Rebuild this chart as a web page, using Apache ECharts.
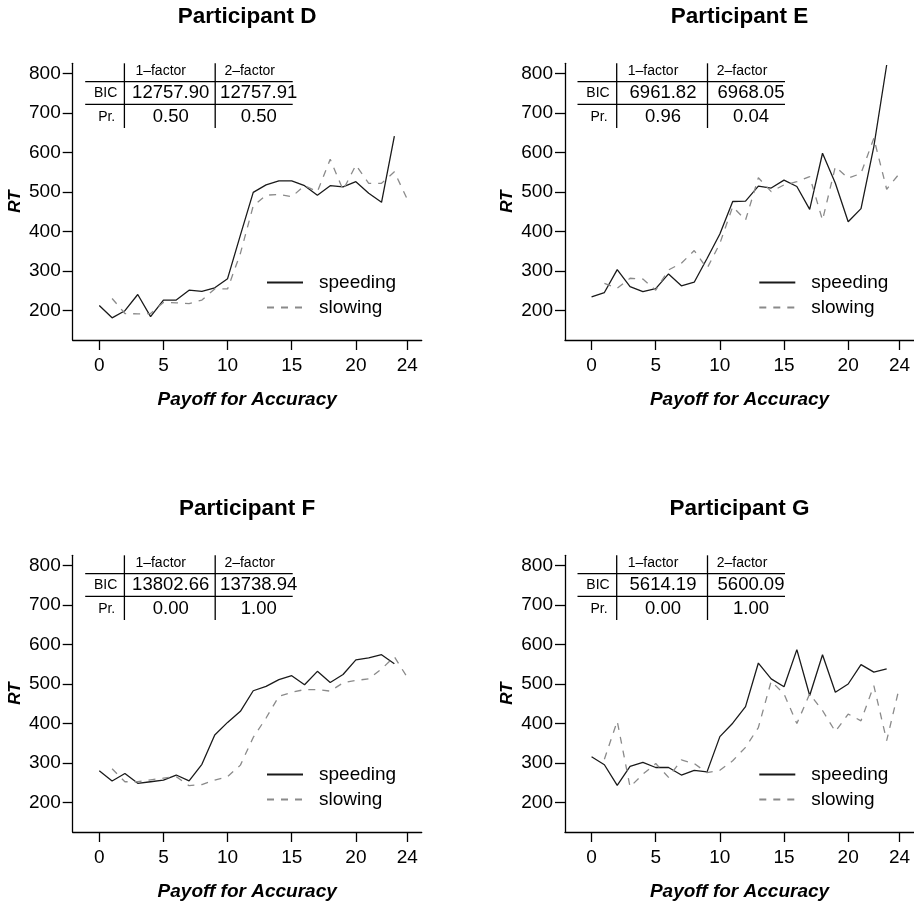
<!DOCTYPE html>
<html><head><meta charset="utf-8">
<script src="https://cdn.jsdelivr.net/npm/echarts@6/dist/echarts.min.js"></script>
<style>html,body{margin:0;padding:0;background:#fff}#c{width:914px;height:905px}</style>
</head><body><div id="c"></div>
<script>
// ---------------- DATA ----------------
const participants = ['Participant D', 'Participant E', 'Participant F', 'Participant G'];
const speedingTrials = [0,1,2,3,4,5,6,7,8,9,10,11,12,13,14,15,16,17,18,19,20,21,22,23];
const slowingTrials  = [1,2,3,4,5,6,7,8,9,10,11,12,13,14,15,16,17,18,19,20,21,22,23,24];
const xTickValues = [0, 5, 10, 15, 20, 24];
const yTickValues = [200, 300, 400, 500, 600, 700, 800];

const speedingD = [213,182,200,241,185,227,227,252,249,258,281,391,499,518,528,528,516,492,516,513,526,497,474,641];
const slowingD  = [231,193,192,193,221,220,218,227,255,255,345,465,492,494,488,516,501,583,505,568,522,522,551,482];
const speedingE = [235,246,304,261,248,256,293,263,272,332,394,476,477,515,510,530,514,456,598,522,425,458,615,821];
const slowingE  = [269,257,282,280,252,303,320,352,307,370,463,429,536,501,518,526,539,429,564,535,547,636,507,547];
const speedingF = [281,255,274,249,253,257,270,255,297,371,403,431,483,494,511,521,498,532,504,524,561,566,574,551];
const slowingF  = [286,253,253,258,262,266,243,246,257,266,295,365,414,469,479,486,486,482,503,509,513,538,569,517];
const speedingG = [316,296,244,292,302,289,289,270,282,278,367,401,443,553,513,493,587,471,574,479,500,549,530,538];
const slowingG  = [310,406,240,272,299,264,308,299,276,282,306,340,390,507,475,400,475,433,380,424,407,496,357,493];

const tableHeader = ['1\u2013factor', '2\u2013factor'];
const rowLabels = ['BIC', 'Pr.'];
const bicOneFactor = ['12757.90', '6961.82', '13802.66', '5614.19'];
const bicTwoFactor = ['12757.91', '6968.05', '13738.94', '5600.09'];
const prOneFactor  = ['0.50', '0.96', '0.00', '0.00'];
const prTwoFactor  = ['0.50', '0.04', '1.00', '1.00'];

const legendNames = ['speeding', 'slowing'];
const xAxisTitle = 'Payoff for Accuracy';
const yAxisTitle = 'RT';

// ---------------- LAYOUT ----------------
const speedingSets = [speedingD, speedingE, speedingF, speedingG];
const slowingSets = [slowingD, slowingE, slowingF, slowingG];
const FONT = "'Liberation Sans', Arial, Helvetica, sans-serif";
const PW = 349, PH = 276.7;
const lefts = [72.7, 565, 72.7, 565];
const tops = [63.3, 63.3, 555.3, 555.3];
const X_MIN = -2.07, X_MAX = 25.13, Y_MIN = 126, Y_MAX = 825.3;
const SOLID = '#1a1a1a', DASH = '#8a8a8a';

const grids = [], xAxes = [], yAxes = [], series = [], legends = [], graphics = [];

function zip(xs, ys) { return xs.map((x, i) => [x, ys[i]]); }

for (let i = 0; i < 4; i++) {
  const L = lefts[i], Tp = tops[i];
  grids.push({ left: L, top: Tp, width: PW, height: PH, containLabel: false });
  xAxes.push({
    type: 'value', gridIndex: i, min: X_MIN, max: X_MAX,
    axisLine: { show: true, onZero: false, lineStyle: { color: '#000', width: 1.3 } },
    axisTick: { show: true, length: 10, customValues: xTickValues, lineStyle: { color: '#000', width: 1.3 } },
    axisLabel: { customValues: xTickValues, color: '#000', fontSize: 19, fontFamily: FONT, margin: 16 },
    splitLine: { show: false }
  });
  yAxes.push({
    type: 'value', gridIndex: i, min: Y_MIN, max: Y_MAX,
    axisLine: { show: true, onZero: false, lineStyle: { color: '#000', width: 1.3 } },
    axisTick: { show: true, length: 10, customValues: yTickValues, lineStyle: { color: '#000', width: 1.3 } },
    axisLabel: { customValues: yTickValues, color: '#000', fontSize: 19, fontFamily: FONT, margin: 12 },
    splitLine: { show: false }
  });
  series.push({
    type: 'line', name: legendNames[0], xAxisIndex: i, yAxisIndex: i,
    data: zip(speedingTrials, speedingSets[i]), symbol: 'none', silent: true,
    itemStyle: { color: SOLID },
    lineStyle: { color: SOLID, width: 1.3, type: 'solid' }
  });
  series.push({
    type: 'line', name: legendNames[1], xAxisIndex: i, yAxisIndex: i,
    data: zip(slowingTrials, slowingSets[i]), symbol: 'none', silent: true,
    itemStyle: { color: DASH },
    lineStyle: { color: DASH, width: 1.3, type: [7, 7] }
  });
  legends.push({
    data: legendNames, orient: 'vertical', left: L + 193.3, top: Tp + 209.8,
    padding: 0, itemWidth: 36, itemHeight: 14, itemGap: 6, selectedMode: false,
    itemStyle: { opacity: 0 },
    textStyle: { fontSize: 19, fontFamily: FONT, color: '#000', lineHeight: 19, padding: [0, 0, 0, 11] }
  });

  const cx = L + PW / 2;
  // title
  graphics.push({ type: 'text', x: cx, y: Tp - 47, silent: true,
    style: { text: participants[i], fill: '#000', fontSize: 22.5, fontWeight: 'bold', fontFamily: FONT, align: 'center', verticalAlign: 'middle' } });
  // x axis title
  graphics.push({ type: 'text', x: cx, y: Tp + PH + 60, silent: true,
    style: { text: xAxisTitle, fill: '#000', fontSize: 19, fontWeight: 'bold', fontStyle: 'italic', fontFamily: FONT, align: 'center', verticalAlign: 'middle' } });
  // y axis title
  graphics.push({ type: 'text', x: L - 57.7, y: Tp + PH / 2, rotation: Math.PI / 2, silent: true,
    style: { text: yAxisTitle, fill: '#000', fontSize: 17, fontWeight: 'bold', fontStyle: 'italic', fontFamily: FONT, align: 'center', verticalAlign: 'middle' } });

  // table
  const T = Tp + (Y_MAX - 800) / (Y_MAX - Y_MIN) * PH;
  const lineSt = { stroke: '#000', lineWidth: 1.3 };
  graphics.push({ type: 'line', silent: true, shape: { x1: L + 12.5, y1: T + 8.4, x2: L + 220, y2: T + 8.4 }, style: lineSt });
  graphics.push({ type: 'line', silent: true, shape: { x1: L + 12.5, y1: T + 31, x2: L + 220, y2: T + 31 }, style: lineSt });
  graphics.push({ type: 'line', silent: true, shape: { x1: L + 51.7, y1: T - 10, x2: L + 51.7, y2: T + 54.7 }, style: lineSt });
  graphics.push({ type: 'line', silent: true, shape: { x1: L + 142.5, y1: T - 10, x2: L + 142.5, y2: T + 54.7 }, style: lineSt });
  const small = (t, x, y) => ({ type: 'text', x, y, silent: true,
    style: { text: t, fill: '#000', fontSize: 14, fontFamily: FONT, align: 'center', verticalAlign: 'middle' } });
  const big = (t, x, y) => ({ type: 'text', x, y, silent: true,
    style: { text: t, fill: '#000', fontSize: 18.5, fontFamily: FONT, align: 'center', verticalAlign: 'middle' } });
  graphics.push(small(tableHeader[0], L + 88, T - 2.6));
  graphics.push(small(tableHeader[1], L + 177, T - 2.6));
  graphics.push(small(rowLabels[0], L + 33, T + 19.6));
  graphics.push(small(rowLabels[1], L + 34, T + 43.4));
  graphics.push(big(bicOneFactor[i], L + 98, T + 19.6));
  graphics.push(big(bicTwoFactor[i], L + 186, T + 19.6));
  graphics.push(big(prOneFactor[i], L + 98, T + 43.4));
  graphics.push(big(prTwoFactor[i], L + 186, T + 43.4));
}

const chart = echarts.init(document.getElementById('c'), null, { renderer: 'canvas' });
chart.setOption({
  animation: false,
  backgroundColor: '#fff',
  grid: grids, xAxis: xAxes, yAxis: yAxes, series: series, legend: legends, graphic: graphics
});
</script></body></html>
